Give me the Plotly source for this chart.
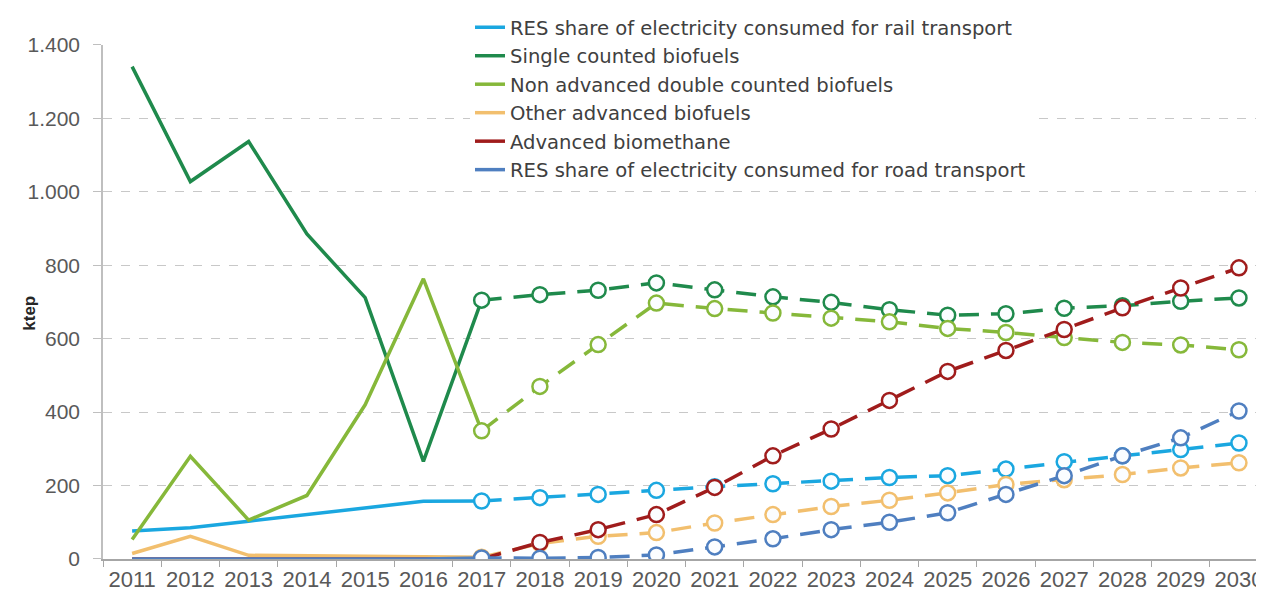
import plotly.graph_objects as go

years = [str(y) for y in range(2011, 2031)]

series_names = [
    "RES share of electricity consumed for rail transport",
    "Single counted biofuels",
    "Non advanced double counted biofuels",
    "Other advanced biofuels",
    "Advanced biomethane",
    "RES share of electricity consumed for road transport",
]

rail = [76, 85, 103, 121, 139, 157, 158, 167, 176, 187, 197, 205, 212, 222, 227, 245, 265, 281, 298, 316]
single = [1341, 1028, 1137, 885, 712, 266, 705, 720, 732, 752, 733, 714, 699, 679, 664, 668, 683, 690, 702, 711]
nonadv = [53, 280, 106, 173, 420, 763, 349, 470, 584, 697, 682, 670, 656, 646, 628, 617, 603, 590, 583, 570]
other = [15, 62, 10, 8, 8, 6, 5, 42, 62, 72, 98, 121, 143, 160, 180, 203, 216, 230, 248, 262]
biomethane = [0, 0, 0, 0, 0, 0, 0, 45, 80, 121, 195, 281, 354, 432, 511, 568, 625, 684, 738, 793]
road = [0, 0, 0, 0, 0, 0, 3, 2, 4, 11, 33, 55, 80, 100, 126, 176, 227, 281, 330, 403]

colors = ["#1aa7e0", "#1f8a4c", "#86b83a", "#f2bf6e", "#a01c1c", "#4f7fc0"]
values = [rail, single, nonadv, other, biomethane, road]

hist_end = 7  # 2011-2017 observed (solid), 2017-2030 projected (dashed)

fig = go.Figure()
for name, vals, col in zip(series_names, values, colors):
    fig.add_trace(go.Scatter(
        x=years[:hist_end], y=vals[:hist_end], mode="lines", name=name,
        line=dict(color=col, width=3.5), showlegend=True,
    ))
    fig.add_trace(go.Scatter(
        x=years[hist_end - 1:], y=vals[hist_end - 1:], mode="lines+markers",
        name=name, showlegend=False,
        line=dict(color=col, width=3.5, dash="20px,12px"),
        marker=dict(symbol="circle", size=15, color="#fbfdff",
                    line=dict(color=col, width=2.5)),
    ))

# the page body has an 8px margin, so the figure is drawn at (8, 8)
W, H = 1256, 591
ml = 95
plot_bottom = 551.5
mb = H - plot_bottom
paper_h = plot_bottom     # paper area spans from fig y=0 to plot bottom
plot_top = 37

fig.update_layout(
    width=W, height=H,
    margin=dict(l=ml, r=0, t=0, b=mb),
    plot_bgcolor="white", paper_bgcolor="white",
    separators=",.",
    font=dict(family="Liberation Sans, Arial, sans-serif", color="#595959"),
    legend=dict(
        x=(462 - ml) / (W - ml), y=1.0, xanchor="left", yanchor="top",
        bgcolor="white", borderwidth=0,
        font=dict(family="DejaVu Sans, sans-serif", size=19.6, color="#404040"),
        traceorder="normal",
    ),
    xaxis=dict(
        type="category", range=[-0.5, 19.43], automargin=False,
        showline=True, linecolor="#a6a6a6", linewidth=1.5,
        ticks="outside", tickson="boundaries", ticklen=6, tickcolor="#a6a6a6",
        showgrid=False, tickfont=dict(size=22, color="#595959"),
    ),
    yaxis=dict(
        domain=[0, (paper_h - plot_top) / paper_h],
        range=[0, 1400], dtick=200, tickformat=",d", automargin=False,
        showline=True, linecolor="#bfbfbf", linewidth=1.5,
        ticks="outside", ticklen=8, tickcolor="#bfbfbf", ticklabelstandoff=9,
        showgrid=True, gridcolor="#c8c8c8", griddash="dash", gridwidth=1.2,
        zeroline=False,
        tickfont=dict(size=21, color="#595959"),
    ),
    annotations=[dict(
        text="<b>ktep</b>", textangle=-90, showarrow=False,
        xref="paper", yref="paper",
        x=(22 - ml) / (W - ml), y=(plot_bottom - 305) / paper_h,
        xanchor="center", yanchor="middle",
        font=dict(size=17, color="#262626"),
    )],
)

fig.write_html("out.html")
